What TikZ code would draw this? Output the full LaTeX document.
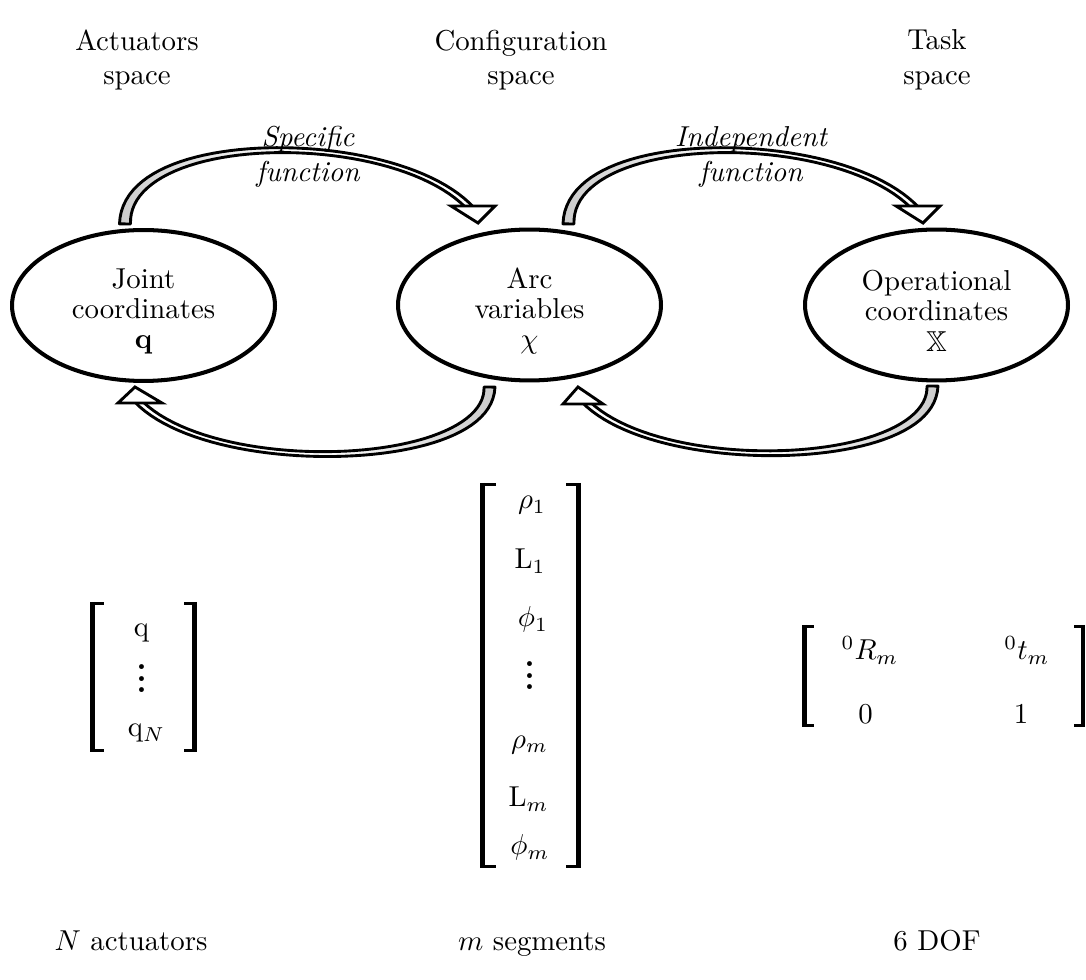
\documentclass[tikz,border=0pt]{standalone}
\usepackage{amsmath,amssymb}
\usetikzlibrary{shapes.geometric}
\def\Wa{11}\def\Wm{1.5}\def\Wb{6}
\tikzset{
  declare function={
    bzx(\x)=(1-\x)^3*\Ax+3*(1-\x)^2*\x*\Bx+3*(1-\x)*\x^2*\Cx+\x^3*\Dx;
    bzy(\x)=(1-\x)^3*\Ay+3*(1-\x)^2*\x*\By+3*(1-\x)*\x^2*\Cy+\x^3*\Dy;
    dzx(\x)=0.03*((1-\x)^2*(\Bx-\Ax)+2*(1-\x)*\x*(\Cx-\Bx)+\x^2*(\Dx-\Cx));
    dzy(\x)=0.03*((1-\x)^2*(\By-\Ay)+2*(1-\x)*\x*(\Cy-\By)+\x^2*(\Dy-\Cy));
    nrm(\x)=sqrt(dzx(\x)^2+dzy(\x)^2);
    hw(\x)=0.5*((1-\x)^2*\Wa+2*(1-\x)*\x*\Wm+\x^2*\Wb);
    ofx(\x,\y)=bzx(\x)-(\y)*hw(\x)*dzy(\x)/nrm(\x);
    ofy(\x,\y)=bzy(\x)+(\y)*hw(\x)*dzx(\x)/nrm(\x);
  },
  elli/.style={ellipse, draw, line width=1.4pt, minimum width=91.3pt, minimum height=52.4pt, inner sep=0pt},
  eltext/.style={align=center, inner sep=0pt},
  hdr/.style={align=center, inner sep=0pt},
  fnlabel/.style={align=center, inner sep=0pt, font=\itshape},
  entry/.style={anchor=base, inner sep=0pt},
  shaft/.style={draw=black, line width=1pt, line join=round},
  fromleft/.style={left color=gray!40, right color=white, middle color=white},
  fromright/.style={left color=white, right color=gray!40, middle color=white},
  head/.style={draw=black, fill=white, line width=1pt, line join=miter},
  stem/.style={line width=1.5pt},
  serif/.style={line width=0.9pt},
}
\newcommand{\fatshaft}[9]{%
  \def\Ax{#1}\def\Ay{#2}\def\Bx{#3}\def\By{#4}\def\Cx{#5}\def\Cy{#6}\def\Dx{#7}\def\Dy{#8}%
  \path[shaft,#9] plot[domain=0:1,samples=50] ({ofx(\x,1)},{ofy(\x,1)})
     -- plot[domain=1:0,samples=50] ({ofx(\x,-1)},{ofy(\x,-1)}) -- cycle;
}
\newcommand{\mbrack}[4]{%
  \draw[stem] (#1,#2) -- (#1,#3);
  \draw[serif] (#1,{#2+1.3}) -- (#4,{#2+1.3});
  \draw[serif] (#1,{#3-1.3}) -- (#4,{#3-1.3});
}
\begin{document}
\begin{tikzpicture}[x={(0.3472pt,0)}, y={(0,-0.3472pt)}]
\useasboundingbox (0,0) rectangle (1086,980);

% headers
\node[hdr] (hA) at (137,60) {Actuators\\space};
\node[hdr] (hC) at (521,60) {Configuration\\space};
\node[hdr] (hT) at (937,60) {Task\\space};

% ellipses
\node[elli] (jE) at (143.5,305.5) {};
\node[elli] (aE) at (529.5,305) {};
\node[elli] (oE) at (936.5,305) {};
\node[eltext] (jT) at ([yshift=-2pt]jE.center) {Joint\\[-1.5pt]coordinates\\[-1.5pt]$\mathbf{q}$};
\node[eltext] (aT) at ([yshift=-2pt]aE.center) {Arc\\[-1.5pt]variables\\[-1.5pt]$\chi$};
\node[eltext] (oT) at ([yshift=-2pt]oE.center) {Operational\\[-1.5pt]coordinates\\[-1.5pt]$\mathbb{X}$};

% arrows: shafts
\fatshaft{125}{224}{125}{128}{400}{128}{472}{210}{fromleft}
\fatshaft{568.5}{224}{568.5}{128}{843.5}{128}{917}{210}{fromleft}
\fatshaft{489.5}{387}{489.5}{470}{210}{478}{137}{400}{fromright}
\fatshaft{932.5}{386}{932.5}{469}{657}{477}{584}{400}{fromright}
% arrows: heads
\draw[head] (451,206) -- (478,223) -- (495,206) -- cycle;
\draw[head] (896,206) -- (923,223) -- (940,206) -- cycle;
\draw[head] (118,403) -- (135,387) -- (162,403) -- cycle;
\draw[head] (563,404) -- (578,387) -- (603,404) -- cycle;

\node[fnlabel] (fS) at (308,157) {Specific\\function};
\node[fnlabel] (fI) at (751,157) {Independent\\function};

% left matrix
\mbrack{92.5}{602}{752}{104}
\mbrack{194.5}{602}{752}{183.5}
\node[entry] (q1) at (141.5,637) {q};
\node[entry] (qd) at (142,693) {\huge$\smash{\vdots}$};
\node[entry] (qN) at (146.5,737) {q$_N$};

% middle matrix
\mbrack{482.5}{483}{868}{496}
\mbrack{578.5}{483}{868}{566}
\node[entry] (r1) at (532,509) {$\rho_1$};
\node[entry] (l1) at (530,569) {L$_1$};
\node[entry] (p1) at (533,627) {$\phi_1$};
\node[entry] (cd) at (530,690) {\huge$\smash{\vdots}$};
\node[entry] (rm) at (529.5,748) {$\rho_m$};
\node[entry] (lm) at (528.5,807) {L$_m$};
\node[entry] (pm) at (530,855) {$\phi_m$};

% right matrix
\mbrack{804.5}{625}{727}{814}
\mbrack{1083}{625}{727}{1074}
\node[entry] (R) at (870,660) {$^0R_m$};
\node[entry] (t) at (1027,660) {$^0t_m$};
\node[entry] (z) at (865.5,724) {$0$};
\node[entry] (o) at (1021,724) {$1$};

% bottom labels
\node[entry] (bN) at (131,951) {$N$ actuators};
\node[entry] (bm) at (532,951) {$m$ segments};
\node[entry] (b6) at (937,951) {6 DOF};
\end{tikzpicture}
\end{document}
